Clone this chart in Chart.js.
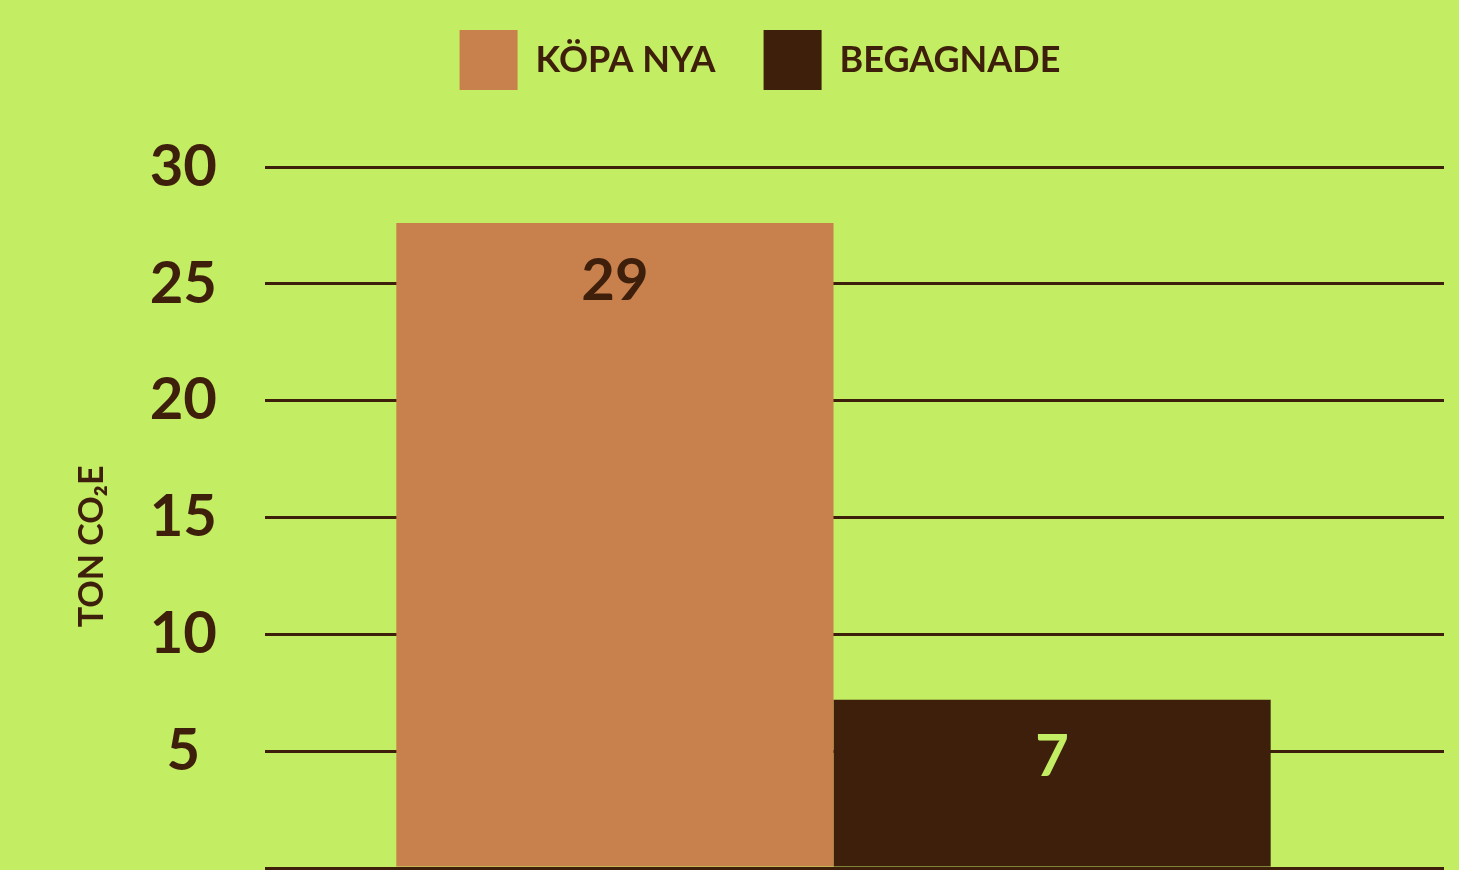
<!DOCTYPE html>
<html>
<head>
<meta charset="utf-8">
<script src="https://cdn.jsdelivr.net/npm/chart.js@4.4.1/dist/chart.umd.min.js"></script>
<style>
  html, body { margin: 0; padding: 0; background: #C3ED62; overflow: hidden; }
  #wrap { width: 1459px; height: 870px; position: relative; }
</style>
</head>
<body>
<div id="wrap"><canvas id="c" width="1459" height="870"></canvas></div>
<script>
// ---- data ----
const categories = [''];
const seriesNames = ['KÖPA NYA', 'BEGAGNADE'];
const kopaNyaValues = [27.6];
const begagnadeValues = [7.2];
const valueLabels = ['29', '7'];
const yTicks = [0, 5, 10, 15, 20, 25, 30];
const yTitle = 'TON CO₂E';

const BG = '#C3ED62';
const BROWN = '#3E1F0C';
const ORANGE = '#C8804C';
const FONT = 'Lato, "Open Sans", sans-serif';

const valueLabelPlugin = {
  id: 'valueLabels',
  afterDatasetsDraw(chart) {
    const ctx = chart.ctx;
    const colors = [BROWN, BG];
    chart.data.datasets.forEach((ds, i) => {
      const meta = chart.getDatasetMeta(i);
      meta.data.forEach((bar) => {
        ctx.save();
        ctx.font = 'bold 58px ' + FONT;
        ctx.fillStyle = colors[i];
        ctx.textAlign = 'center';
        ctx.textBaseline = 'middle';
        ctx.fillText(valueLabels[i], bar.x, bar.y + 58);
        ctx.restore();
      });
    });
  }
};

new Chart(document.getElementById('c'), {
  type: 'bar',
  data: {
    labels: categories,
    datasets: [
      { label: seriesNames[0], data: kopaNyaValues, backgroundColor: ORANGE, borderWidth: 0 },
      { label: seriesNames[1], data: begagnadeValues, backgroundColor: BROWN, borderWidth: 0 }
    ]
  },
  options: {
    responsive: false,
    animation: false,
    layout: { padding: { left: 76, right: 15, top: -18, bottom: 2 } },
    datasets: { bar: { categoryPercentage: 0.769, barPercentage: 1 } },
    plugins: {
      legend: {
        position: 'top',
        labels: {
          boxWidth: 58,
          boxHeight: 60,
          padding: 48,
          color: BROWN,
          font: { family: FONT, size: 36, weight: 'bold' }
        }
      },
      tooltip: { enabled: false }
    },
    scales: {
      x: {
        display: false,
        grid: { display: false }
      },
      xTop: {
        type: 'category',
        position: 'top',
        display: true,
        grid: { display: false, drawTicks: false },
        border: { display: false },
        ticks: { display: false },
        afterFit: (s) => { s.height = 67; }
      },
      y: {
        min: yTicks[0],
        max: yTicks[yTicks.length - 1],
        afterBuildTicks: (s) => { s.ticks = yTicks.map(v => ({ value: v })); },
        border: { display: false },
        grid: { color: BROWN, lineWidth: 3, drawTicks: false },
        ticks: {
          padding: 48,
          crossAlign: 'center',
          color: BROWN,
          font: { family: FONT, size: 58, weight: 'bold' },
          callback: (v) => v === 0 ? '' : String(v)
        },
        title: {
          display: true,
          text: yTitle + '\u00A0'.repeat(7),
          color: BROWN,
          font: { family: FONT, size: 34, weight: 'bold' },
          padding: { top: -4, bottom: 0 }
        },
        afterFit: (s) => { s.width = 189; s.paddingTop = 0; s.paddingBottom = 0; }
      },
      yR: {
        position: 'right',
        min: yTicks[0],
        max: yTicks[yTicks.length - 1],
        afterBuildTicks: (s) => { s.ticks = yTicks.map(v => ({ value: v })); },
        border: { display: false },
        grid: { color: BROWN, lineWidth: 3, drawOnChartArea: false, drawTicks: true, tickLength: 42 },
        ticks: { display: false },
        afterFit: (s) => { s.width = 42; s.paddingTop = 0; s.paddingBottom = 0; }
      }
    }
  },
  plugins: [valueLabelPlugin]
});
</script>
</body>
</html>
